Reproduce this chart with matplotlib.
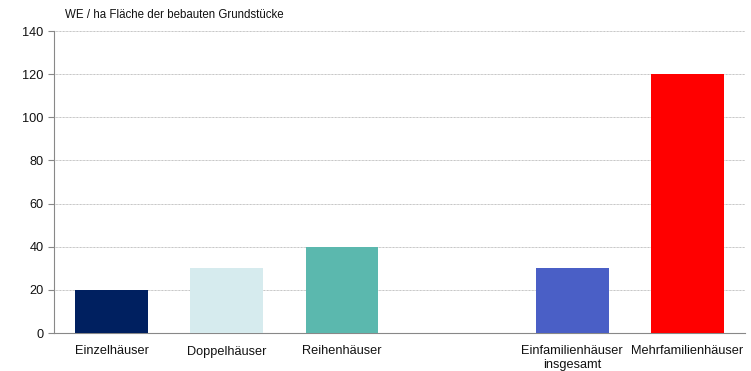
import matplotlib
matplotlib.use("Agg")
import matplotlib.pyplot as plt
import numpy as np

plt.rcParams['font.family'] = ['Liberation Sans', 'DejaVu Sans']

categories = ["Einzelhäuser", "Doppelhäuser", "Reihenhäuser",
              "Einfamilienhäuser\ninsgesamt", "Mehrfamilienhäuser"]
values = [20, 30, 40, 30, 120]
colors = ["#002060", "#D6EBEE", "#5BB8AE", "#4A5FC6", "#FF0000"]
yticks = [0, 20, 40, 60, 80, 100, 120, 140]
ylabel = "WE / ha Fläche der bebauten Grundstücke"

# slot positions: leave an empty slot between group and totals
positions = [0, 1, 2, 4, 5]

fig = plt.figure(figsize=(7.51, 3.71), dpi=100)
ax = fig.add_axes([54/751, 1-333/371, (745-54)/751, (333-31)/371])

ax.bar(positions, values, width=0.63, color=colors, zorder=3)

ax.set_xlim(-0.5, 5.5)
ax.set_ylim(0, 140)
ax.set_yticks(yticks)
ax.set_xticks(positions)
ax.set_xticklabels(categories, fontsize=9.2, color="#111111", va="top", linespacing=1.15)
ax.tick_params(axis='x', length=0, pad=9)
ax.tick_params(axis='y', length=4, width=0.8, color="#888888", labelsize=9.2,
               labelcolor="#111111", pad=3.5, direction='out')

ax.yaxis.grid(True, linestyle=(0, (1, 0.7)), color="#b0b0b0", linewidth=0.6, zorder=0)
ax.set_axisbelow(True)

for s in ['top', 'right']:
    ax.spines[s].set_visible(False)
ax.spines['left'].set_color("#888888")
ax.spines['bottom'].set_color("#888888")
ax.spines['left'].set_linewidth(0.8)
ax.spines['bottom'].set_linewidth(0.8)

fig.text(65/751, 1-14.5/371, ylabel, fontsize=8.3, color="#111111", va="center", ha="left")

fig.savefig("out.png", dpi=100)
